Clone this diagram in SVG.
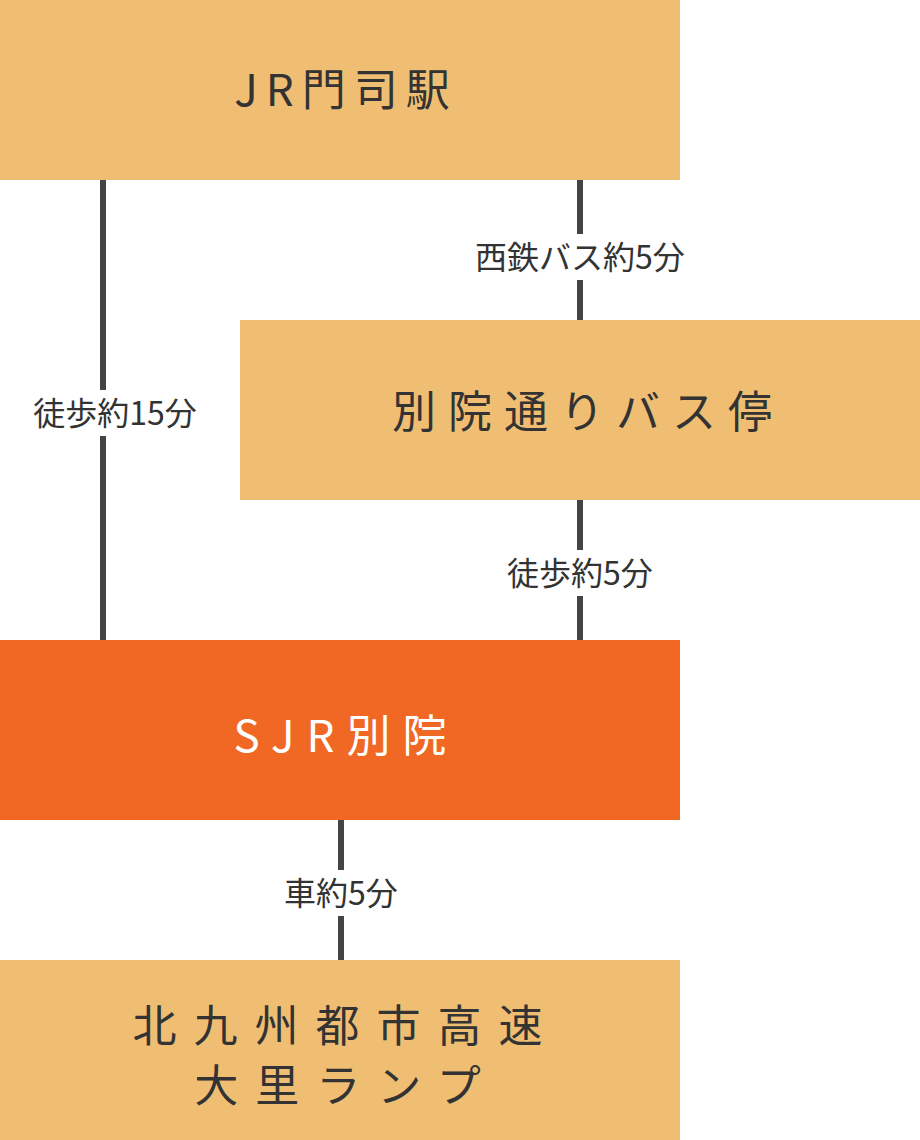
<svg xmlns="http://www.w3.org/2000/svg" width="920" height="1140" viewBox="0 0 920 1140">
<style>
.box{fill:#F0BE73}
.main{fill:#F06824}
.t{font-family:"Noto Sans CJK JP",sans-serif;font-size:44px;fill:#333;text-anchor:middle;letter-spacing:12px}
.l{font-family:"Noto Sans CJK JP",sans-serif;font-size:32px;fill:#333;text-anchor:middle}
.ln{stroke:#444;stroke-width:6}
.bg{fill:#fff}
</style>
<rect width="920" height="1140" fill="#fff"/>
<g id="connectors">
<line class="ln" x1="103" y1="180" x2="103" y2="640"/>
<line class="ln" x1="580" y1="180" x2="580" y2="320"/>
<line class="ln" x1="580" y1="500" x2="580" y2="640"/>
<line class="ln" x1="341" y1="820" x2="341" y2="960"/>
<rect class="bg" x="8" y="390" width="210" height="46"/>
<text class="l" x="115" y="425">徒歩約15分</text>
<rect class="bg" x="446" y="234" width="268" height="46"/>
<text class="l" x="580" y="269">西鉄バス約5分</text>
<rect class="bg" x="484" y="550" width="192" height="46"/>
<text class="l" x="580" y="585">徒歩約5分</text>
<rect class="bg" x="264" y="870" width="154" height="46"/>
<text class="l" x="341" y="905">車約5分</text>
</g>
<g id="n1"><rect class="box" x="0" y="0" width="680" height="180"/><text class="t" x="346" y="106" style="letter-spacing:8px">JR門司駅</text></g>
<g id="n2"><rect class="box" x="240" y="320" width="680" height="180"/><text class="t" x="588" y="428">別院通りバス停</text></g>
<g id="n3"><rect class="main" x="0" y="640" width="680" height="180"/><text class="t" x="346" y="752" style="fill:#fff">SJR別院</text></g>
<g id="n4"><rect class="box" x="0" y="960" width="680" height="180"/><text class="t" x="346" y="1042" style="letter-spacing:17px">北九州都市高速</text><text class="t" x="346" y="1102" style="letter-spacing:17px">大里ランプ</text></g>
</svg>
